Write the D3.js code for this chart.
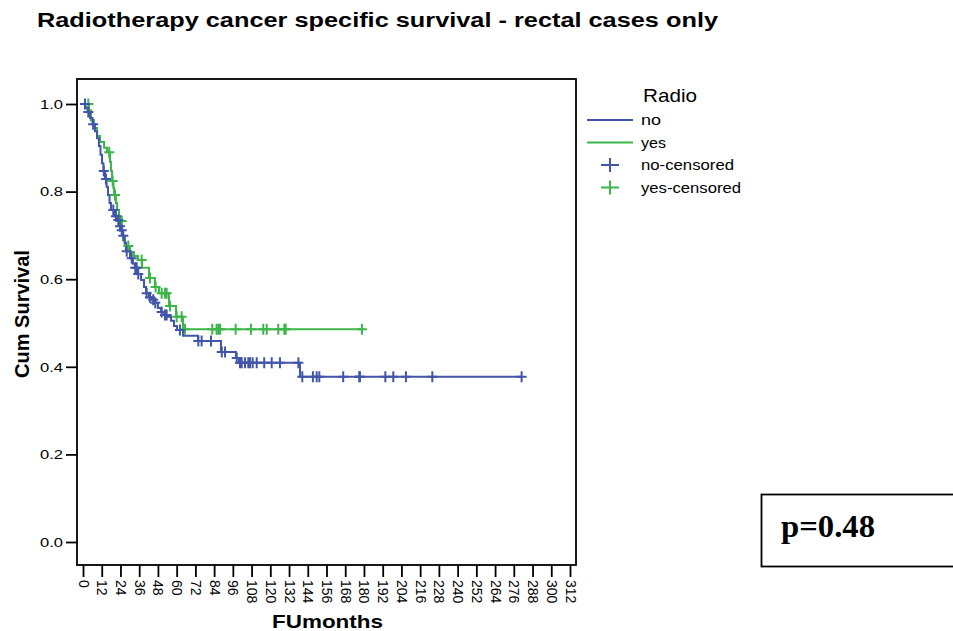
<!DOCTYPE html>
<html>
<head>
<meta charset="utf-8">
<script src="https://cdn.jsdelivr.net/npm/d3@7/dist/d3.min.js"></script>
<style>
  html, body { margin: 0; padding: 0; background: #fff; }
  svg { display: block; font-family: "Liberation Sans", Arial, sans-serif; }
</style>
</head>
<body>
<svg id="chart" width="953" height="631"></svg>
<script>
// Kaplan-Meier steps for patients without radiotherapy: event month and survival after the step
const noTimes = [0, 1.6, 2.9, 4.5, 6.1, 7.7, 9.0, 10.2, 11.2, 12.2, 13.1, 14.1, 15.1, 16.0, 17.0, 17.9,
  19.9, 21.8, 23.4, 24.3, 25.6, 26.6, 27.5, 30.1, 32.0, 33.3, 35.2, 37.2, 39.1, 40.4, 42.3, 44.2, 46.1,
  48.0, 50.0, 51.9, 54.5, 56.4, 58.3, 60.2, 64.1, 73.7, 88.4, 98.0, 99.9, 139.0];
const noSurv = [1.0, 0.991, 0.982, 0.968, 0.954, 0.938, 0.922, 0.904, 0.884, 0.865, 0.847, 0.829, 0.811, 0.792, 0.774, 0.758,
  0.744, 0.735, 0.721, 0.712, 0.699, 0.683, 0.664, 0.648, 0.635, 0.626, 0.612, 0.598, 0.582, 0.568, 0.559, 0.553, 0.546,
  0.534, 0.525, 0.518, 0.514, 0.505, 0.493, 0.484, 0.471, 0.459, 0.434, 0.420, 0.409, 0.377];
const noCensored = [1.3, 3.4, 6.5, 13.3, 14.7, 19.4, 21.1, 22.6, 23.7, 24.8, 25.8, 28.0, 31.2, 33.5, 34.4, 35.4,
  40.8, 42.9, 45.0, 46.3, 50.4, 52.5, 53.6, 62.1, 73.9, 76.0, 82.0, 88.9, 91.0, 98.5,
  100.6, 101.7, 103.8, 105.9, 107.0, 108.7, 111.3, 116.1, 120.9, 126.2, 138.0,
  140.5, 147.3, 149.7, 151.4, 166.7, 177.0, 177.4, 193.7, 198.8, 206.9, 223.8, 281.0];
const noEnd = 281.0;

// Kaplan-Meier steps for patients with radiotherapy
const yesTimes = [0, 3.8, 5.1, 7.0, 9.0, 10.9, 13.5, 15.4, 17.3, 17.9, 18.6, 19.5, 19.9, 21.1, 21.8, 23.1, 23.7,
  25.0, 25.6, 26.9, 30.1, 32.7, 35.2, 37.8, 42.3, 46.1, 48.7, 55.1, 59.6, 64.1];
const yesSurv = [1.0, 0.986, 0.963, 0.945, 0.927, 0.913, 0.900, 0.890, 0.868, 0.847, 0.824, 0.808, 0.792, 0.774, 0.758, 0.744, 0.733,
  0.712, 0.694, 0.676, 0.662, 0.653, 0.644, 0.626, 0.603, 0.582, 0.568, 0.539, 0.514, 0.486];
const yesCensored = [3.4, 16.8, 19.0, 20.5, 24.8, 29.0, 37.6, 42.9, 46.5, 50.4, 52.5, 53.6, 55.7, 60.0, 63.2, 65.3,
  82.8, 85.6, 86.7, 87.8, 97.8, 107.6, 115.5, 117.7, 125.1, 129.0, 129.9, 178.7];
const yesEnd = 178.7;

const xTicks = d3.range(0, 313, 12);
const yTicks = [0, 0.2, 0.4, 0.6, 0.8, 1.0];
const legendTitle = "Radio";
const groupLabels = ["no", "yes"];
const censorLabels = ["no-censored", "yes-censored"];
const pValueText = "p=0.48";

const colors = { no: "#4156ab", yes: "#3cb64a" };

const svg = d3.select("#chart");

const x = d3.scaleLinear().domain([0, 312]).range([83, 570]);
const y = d3.scaleLinear().domain([0, 1]).range([542, 104]);

// text helper: the chart's lettering is drawn slightly wide, so fix each run's length
function label(sel, str, attrs, len) {
  const t = sel.append("text").text(str);
  Object.entries(attrs).forEach(([k, v]) => t.attr(k, v));
  if (len) t.attr("textLength", len).attr("lengthAdjust", "spacingAndGlyphs");
  return t;
}

// title
label(svg, "Radiotherapy cancer specific survival - rectal cases only",
  { x: 37, y: 27, "font-size": 19.5, "font-weight": "bold" }, 681);

// plot frame
svg.append("rect")
  .attr("x", 77).attr("y", 79).attr("width", 499).attr("height", 486)
  .attr("fill", "none").attr("stroke", "#000").attr("stroke-width", 1.8);

// y axis
const yAxis = svg.append("g").attr("transform", "translate(77,0)")
  .call(d3.axisLeft(y).tickValues(yTicks).tickFormat(d3.format(".1f")).tickSize(11).tickPadding(3));
yAxis.select(".domain").remove();
yAxis.selectAll(".tick line").attr("stroke", "#000").attr("stroke-width", 1.8);
yAxis.selectAll(".tick text").attr("font-size", 13.5).attr("fill", "#000")
  .attr("font-family", "Liberation Sans, Arial, sans-serif")
  .attr("textLength", 23).attr("lengthAdjust", "spacingAndGlyphs");

// x axis with vertical labels
const xAxis = svg.append("g").attr("transform", "translate(0,565)")
  .call(d3.axisBottom(x).tickValues(xTicks).tickSize(12));
xAxis.select(".domain").remove();
xAxis.selectAll(".tick line").attr("stroke", "#000").attr("stroke-width", 1.8);
xAxis.selectAll(".tick text")
  .attr("font-size", 14).attr("fill", "#000")
  .attr("font-family", "Liberation Sans, Arial, sans-serif")
  .attr("text-anchor", "start")
  .attr("dy", null)
  .attr("y", 0)
  .attr("dominant-baseline", "central")
  .attr("transform", "translate(0,15) rotate(90)");

// axis titles
svg.append("text")
  .attr("transform", "translate(29,314) rotate(-90)")
  .attr("text-anchor", "middle")
  .attr("font-size", 20).attr("font-weight", "bold")
  .text("Cum Survival");
label(svg, "FUmonths", { x: 272, y: 628, "font-size": 18.5, "font-weight": "bold" }, 111);

// survival curves
function stepPoints(times, surv, end) {
  const pts = times.map((t, i) => [t, surv[i]]);
  pts.push([end, surv[surv.length - 1]]);
  return pts;
}
function survAt(times, surv, t) {
  let v = surv[0];
  for (let i = 0; i < times.length; i++) if (times[i] <= t) v = surv[i];
  return v;
}
const line = d3.line().x(d => x(d[0])).y(d => y(d[1])).curve(d3.curveStepAfter);

const groups = [
  { key: "yes", times: yesTimes, surv: yesSurv, cens: yesCensored, end: yesEnd },
  { key: "no", times: noTimes, surv: noSurv, cens: noCensored, end: noEnd }
];

groups.forEach(g => {
  svg.append("path")
    .datum(stepPoints(g.times, g.surv, g.end))
    .attr("d", line)
    .attr("fill", "none")
    .attr("stroke", colors[g.key])
    .attr("stroke-width", 2);
});

function cross(sel, cx, cy, hw, hh, color) {
  sel.append("path")
    .attr("d", `M${cx - hw},${cy}H${cx + hw}M${cx},${cy - hh}V${cy + hh}`)
    .attr("stroke", color).attr("stroke-width", 2).attr("fill", "none");
}

groups.forEach(g => {
  const layer = svg.append("g");
  g.cens.forEach(t => {
    cross(layer, x(t), y(survAt(g.times, g.surv, t)), 5, 5.5, colors[g.key]);
  });
});

// legend
const legend = svg.append("g");
label(legend, legendTitle, { x: 643, y: 102, "font-size": 19 }, 54);
const groupLens = [20, 25];
groupLabels.forEach((lab, i) => {
  const ly = 120 + i * 22.5;
  legend.append("line").attr("x1", 587).attr("x2", 633).attr("y1", ly).attr("y2", ly)
    .attr("stroke", colors[lab]).attr("stroke-width", 2);
  label(legend, lab, { x: 641, y: ly + 5, "font-size": 14.5 }, groupLens[i]);
});
const censorLens = [93, 100];
censorLabels.forEach((lab, i) => {
  const ly = 165 + i * 22.5;
  cross(legend, 610, ly, 9, 7, colors[groupLabels[i]]);
  label(legend, lab, { x: 641, y: ly + 5, "font-size": 14.5 }, censorLens[i]);
});

// p-value box
svg.append("rect")
  .attr("x", 761.5).attr("y", 494.5).attr("width", 200).attr("height", 72)
  .attr("fill", "none").attr("stroke", "#000").attr("stroke-width", 1.8);
label(svg, pValueText, {
  x: 781, y: 537, "font-size": 31, "font-weight": "bold",
  "font-family": "Liberation Serif, 'Times New Roman', serif"
}, 94);
</script>
</body>
</html>
